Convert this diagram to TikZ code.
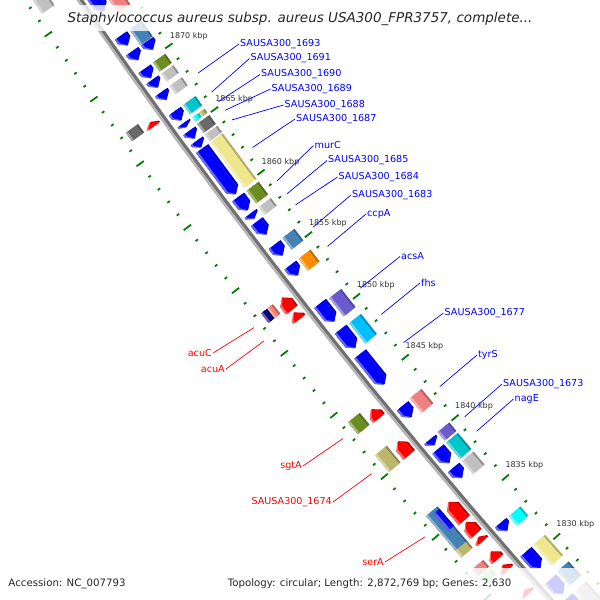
\documentclass[tikz,border=0pt]{standalone}
\usepackage{fontspec}
\setmainfont{DejaVu Sans}
\usetikzlibrary{positioning}

\definecolor{bbdark}{HTML}{707070}
\definecolor{bblight}{HTML}{B4B4B4}
\definecolor{tickgreen}{HTML}{008000}
\definecolor{kbpgray}{HTML}{333333}
\definecolor{cogsteel}{HTML}{4682B4}
\definecolor{cogolive}{HTML}{6B8E23}
\definecolor{cogsilver}{HTML}{C0C0C0}
\definecolor{cogdim}{HTML}{696969}
\definecolor{cogturq}{HTML}{00C5CD}
\definecolor{cogcyan}{HTML}{00FFFF}
\definecolor{cogkhaki}{HTML}{F0E68C}
\definecolor{cogdkhaki}{HTML}{BDB76B}
\definecolor{cogorange}{HTML}{FF8C00}
\definecolor{cogslate}{HTML}{6A5ACD}
\definecolor{cogsky}{HTML}{00BFFF}
\definecolor{cogcoral}{HTML}{F08080}
\definecolor{cognavy}{HTML}{000080}
\definecolor{cogsalmon}{HTML}{FA8072}
\definecolor{cogpale}{HTML}{98FB98}

% outlines: #1 high kbp, #2 low kbp, #3 < #4 radii
\newcommand{\apath}[4]{({ang(#1)}:{#3}) -- ({ang(#2+\gh)}:{#3}) -- ({ang(#2)}:{(#3+#4)/2}) -- ({ang(#2+\gh)}:{#4}) -- ({ang(#1)}:{#4}) -- cycle}
\newcommand{\rpath}[4]{({ang(#2)}:{#3}) -- ({ang(#1-\gh)}:{#3}) -- ({ang(#1)}:{(#3+#4)/2}) -- ({ang(#1-\gh)}:{#4}) -- ({ang(#2)}:{#4}) -- cycle}
\newcommand{\bpath}[4]{({ang(#1)}:{#3}) -- ({ang(#2)}:{#3}) -- ({ang(#2)}:{#4}) -- ({ang(#1)}:{#4}) -- cycle}
% gene shapes with bevel, #5 colour
\newcommand{\garrow}[5]{%
  \pgfmathsetmacro{\gh}{min(0.4,(#1-#2)*0.7)}%
  \fill[#5!75!black] \apath{#1}{#2}{#3}{#4};
  \fill[#5!60!white] \apath{#1}{#2}{#3+2.3}{#4};
  \fill[#5] \apath{#1}{#2}{#3+2.3}{#4-2.3};}
\newcommand{\garrowr}[5]{%
  \pgfmathsetmacro{\gh}{min(0.4,(#1-#2)*0.7)}%
  \fill[#5!75!black] \rpath{#1}{#2}{#3}{#4};
  \fill[#5!60!white] \rpath{#1}{#2}{#3+2.3}{#4};
  \fill[#5] \rpath{#1}{#2}{#3+2.3}{#4-2.3};}
\newcommand{\gbox}[5]{%
  \fill[#5!75!black] \bpath{#1}{#2}{#3}{#4};
  \fill[#5!60!white] \bpath{#1}{#2}{#3+2.3}{#4};
  \fill[#5] \bpath{#1}{#2}{#3+2.3}{#4-2.3};}

\tikzset{
  tickmark/.style={draw=tickgreen, line width=1.8pt},
  kbplbl/.style={text=kbpgray, font=\fontsize{8}{9}\selectfont, inner sep=0pt},
  fwdlbl/.style={text=blue, font=\fontsize{9.6}{11}\selectfont, inner sep=1pt, anchor=west},
  revlbl/.style={text=red, font=\fontsize{9.6}{11}\selectfont, inner sep=1pt, anchor=east},
  fwdlead/.style={blue, line width=0.7pt},
  revlead/.style={red, line width=0.7pt},
  footer/.style={font=\fontsize{10.2}{12}\selectfont, text=black!85, inner sep=0pt, anchor=base west}
}

\begin{document}
\begin{tikzpicture}[x=1pt,y=-1pt, declare function={ang(\p)=141.68+(\p-1850)*0.1473;}]
\useasboundingbox (0,0) rectangle (600,600);
\fill[white] (0,0) rectangle (600,600);
\begin{scope}
\clip (0,0) rectangle (600,600);
\begin{scope}[shift={(5129.5,-3476)}]
% ruler
\foreach \k in {1820,...,1880}{
  \pgfmathtruncatemacro{\m}{mod(\k,5)}
  \ifnum\m=0 \def\tkl{4.5}\else\def\tkl{1.5}\fi
  \draw[tickmark] ({ang(\k)}:{6084-\tkl}) -- ({ang(\k)}:{6084+\tkl});
  \draw[tickmark] ({ang(\k)}:{6176-\tkl}) -- ({ang(\k)}:{6176+\tkl});
}
% backbone
\draw[bblight, line width=2.2pt] plot[domain=1820:1880, samples=13] ({ang(\x)}:6132.5);
\draw[bbdark, line width=3.2pt] plot[domain=1820:1880, samples=13] ({ang(\x)}:6129.5);

% forward strand
\garrow{1876.5}{1874.2}{6109.5}{6124.5}{blue}
\garrow{1872.3}{1871.55}{6109.5}{6124.5}{blue}
\garrow{1871.07}{1870.4}{6109.5}{6124.5}{blue}
\garrow{1869.7}{1869.0}{6109.5}{6124.5}{blue}
\garrow{1868.85}{1868.25}{6109.5}{6124.5}{blue}
\garrow{1867.88}{1867.29}{6109.5}{6124.5}{blue}
\garrow{1866.4}{1865.68}{6109.5}{6124.5}{blue}
\garrow{1865.45}{1865.15}{6109.5}{6124.5}{blue}
\garrow{1864.85}{1864.26}{6109.5}{6124.5}{blue}
\garrow{1864.05}{1863.55}{6109.5}{6124.5}{blue}
\garrow{1863.45}{1859.85}{6109.5}{6124.5}{blue}
\garrow{1859.61}{1858.57}{6109.5}{6124.5}{blue}
\garrow{1858.3}{1857.9}{6109.5}{6124.5}{blue}
\garrow{1857.65}{1856.63}{6109.5}{6124.5}{blue}
\garrow{1855.8}{1854.95}{6109.5}{6124.5}{blue}
\garrow{1854.15}{1853.35}{6109.5}{6124.5}{blue}
\garrow{1851.07}{1849.61}{6109.5}{6124.5}{blue}
\garrow{1848.97}{1847.47}{6109.5}{6124.5}{blue}
\garrow{1846.97}{1844.5}{6109.5}{6124.5}{blue}
\garrow{1842.71}{1841.79}{6109.5}{6124.5}{blue}
\garrow{1839.95}{1839.5}{6109.5}{6124.5}{blue}
\garrow{1839.16}{1838.02}{6109.5}{6124.5}{blue}
\garrow{1837.62}{1836.78}{6109.5}{6124.5}{blue}
\garrow{1833.0}{1832.35}{6109.5}{6124.5}{blue}
\garrow{1830.55}{1829.17}{6109.5}{6124.5}{blue}
\garrow{1828.2}{1827.0}{6109.5}{6124.5}{blue}
\garrow{1826.6}{1825.0}{6109.5}{6124.5}{blue}

% forward COG
\gbox{1876.3}{1873.6}{6091.5}{6106.5}{cogcoral}
\gbox{1872.3}{1871.1}{6091.5}{6106.5}{cogsteel}
\garrow{1871.05}{1870.4}{6091.5}{6106.5}{blue}
\gbox{1869.72}{1869.01}{6091.5}{6106.5}{cogolive}
\gbox{1868.82}{1868.24}{6091.5}{6106.5}{cogsilver}
\gbox{1867.88}{1867.25}{6091.5}{6106.5}{cogsilver}
\gbox{1866.4}{1865.68}{6091.5}{6106.5}{cogturq}
\gbox{1865.4}{1865.1}{6091.5}{6099}{cogdkhaki}
\gbox{1865.4}{1865.1}{6099}{6106.5}{cogcyan}
\gbox{1864.9}{1864.2}{6091.5}{6106.5}{cogdim}
\gbox{1864.05}{1863.55}{6091.5}{6106.5}{cogsilver}
\gbox{1863.45}{1859.85}{6091.5}{6106.5}{cogkhaki}
\gbox{1859.6}{1858.6}{6091.5}{6106.5}{cogolive}
\gbox{1858.3}{1857.7}{6091.5}{6106.5}{cogsilver}
\gbox{1855.83}{1854.9}{6091.5}{6106.5}{cogsteel}
\gbox{1854.15}{1853.2}{6091.5}{6106.5}{cogorange}
\gbox{1850.97}{1849.5}{6091.5}{6106.5}{cogslate}
\gbox{1848.93}{1847.3}{6091.5}{6106.5}{cogsky}
\gbox{1842.78}{1841.6}{6091.5}{6106.5}{cogcoral}
\gbox{1840.0}{1839.3}{6091.5}{6106.5}{cogslate}
\gbox{1839.14}{1837.8}{6091.5}{6106.5}{cogturq}
\gbox{1837.58}{1836.5}{6091.5}{6106.5}{cogsilver}
\gbox{1832.97}{1832.2}{6091.5}{6106.5}{cogcyan}
\gbox{1830.57}{1828.85}{6091.5}{6106.5}{cogkhaki}
\gbox{1828.3}{1827.1}{6091.5}{6106.5}{cogsteel}
\gbox{1826.6}{1825.0}{6091.5}{6106.5}{cogsilver}

% reverse strand
\garrowr{1866.75}{1866.4}{6135.5}{6150.5}{red}
\garrowr{1852.84}{1851.85}{6135.5}{6150.5}{red}
\garrowr{1851.64}{1851.1}{6135.5}{6150.5}{red}
\garrowr{1843.79}{1843.06}{6135.5}{6150.5}{red}
\garrowr{1841.15}{1840.05}{6135.5}{6150.5}{red}
\garrowr{1836.16}{1834.64}{6135.5}{6150.5}{red}
\garrowr{1834.47}{1833.5}{6135.5}{6150.5}{red}
\garrowr{1833.25}{1832.87}{6135.5}{6150.5}{red}
\garrowr{1832.03}{1831.39}{6135.5}{6150.5}{red}
\garrowr{1830.9}{1830.45}{6135.5}{6150.5}{red}
\garrowr{1828.8}{1828.45}{6135.5}{6150.5}{red}

% reverse COG
\gbox{1878.5}{1876.3}{6154.5}{6169.5}{cogsilver}
\gbox{1867.1}{1866.45}{6154.5}{6169.5}{cogdim}
\gbox{1852.88}{1852.12}{6154.5}{6162}{cogsalmon}
\gbox{1852.88}{1852.12}{6162}{6169.5}{cognavy}
\gbox{1844.08}{1843.12}{6154.5}{6169.5}{cogolive}
\gbox{1841.4}{1840.03}{6154.5}{6169.5}{cogdkhaki}
\gbox{1836.4}{1833.4}{6154.5}{6169.5}{cogsteel}
\gbox{1836.2}{1834.8}{6154.5}{6162}{blue}
\gbox{1833.52}{1832.97}{6154.5}{6169.5}{cogdkhaki}
\gbox{1831.95}{1831.39}{6154.5}{6169.5}{cogcoral}
\gbox{1831.2}{1830.7}{6154.5}{6169.5}{cogpale}

% kbp labels
\foreach \k in {1830,1835,...,1870}
  \node[kbplbl] (kbp\k) at ({ang(\k-0.21)}:6062) {\k{} kbp};

% leader ends
\coordinate (g1693) at ({ang(1867.5)}:6076);
\coordinate (g1691) at ({ang(1866.0)}:6076);
\coordinate (g1690) at ({ang(1865.25)}:6076);
\coordinate (g1689) at ({ang(1864.55)}:6076);
\coordinate (g1688) at ({ang(1863.8)}:6076);
\coordinate (g1687) at ({ang(1861.6)}:6076);
\coordinate (gmurC) at ({ang(1858.95)}:6076);
\coordinate (g1685) at ({ang(1857.9)}:6076);
\coordinate (g1684) at ({ang(1857.0)}:6076);
\coordinate (g1683) at ({ang(1855.2)}:6076);
\coordinate (gccpA) at ({ang(1853.65)}:6076);
\coordinate (gacsA) at ({ang(1850.25)}:6076);
\coordinate (gfhs) at ({ang(1848.1)}:6076);
\coordinate (g1677) at ({ang(1845.8)}:6076);
\coordinate (gtyrS) at ({ang(1842.15)}:6076);
\coordinate (g1673) at ({ang(1839.65)}:6076);
\coordinate (gnagE) at ({ang(1838.45)}:6076);
\coordinate (gacuC) at ({ang(1852.45)}:6184);
\coordinate (gacuA) at ({ang(1851.4)}:6184);
\coordinate (gsgtA) at ({ang(1843.5)}:6184);
\coordinate (g1674) at ({ang(1840.65)}:6184);
\coordinate (gserA) at ({ang(1835.45)}:6184);
\end{scope}
% text backgrounds
\fill[white, opacity=0.8] (62,5) rectangle (538,31);
\fill[white, opacity=0.8] (0,568) rectangle (600,600);
\end{scope}

% gene labels
\node[fwdlbl] (l1693) at (239,44) {SAUSA300\_1693};
\node[fwdlbl] (l1691) at (249.5,58.5) {SAUSA300\_1691};
\node[fwdlbl] (l1690) at (260,74.5) {SAUSA300\_1690};
\node[fwdlbl] (l1689) at (270.5,89) {SAUSA300\_1689};
\node[fwdlbl] (l1688) at (283.5,105) {SAUSA300\_1688};
\node[fwdlbl] (l1687) at (295,119) {SAUSA300\_1687};
\node[fwdlbl] (lmurC) at (313.5,145.5) {murC};
\node[fwdlbl] (l1685) at (327,160.5) {SAUSA300\_1685};
\node[fwdlbl] (l1684) at (337.5,177) {SAUSA300\_1684};
\node[fwdlbl] (l1683) at (351,195) {SAUSA300\_1683};
\node[fwdlbl] (lccpA) at (366,214) {ccpA};
\node[fwdlbl] (lacsA) at (400,256.5) {acsA};
\node[fwdlbl] (lfhs) at (420,283) {fhs};
\node[fwdlbl] (l1677) at (443.5,313) {SAUSA300\_1677};
\node[fwdlbl] (ltyrS) at (477,355) {tyrS};
\node[fwdlbl] (l1673) at (502,384) {SAUSA300\_1673};
\node[fwdlbl] (lnagE) at (513.5,399) {nagE};
\node[revlbl] (lacuC) at (213,353) {acuC};
\node[revlbl] (lacuA) at (226,369) {acuA};
\node[revlbl] (lsgtA) at (303,466) {sgtA};
\node[revlbl] (l1674) at (333,502) {SAUSA300\_1674};
\node[revlbl] (lserA) at (385,562) {serA};

\foreach \g in {1693,1691,1690,1689,1688,1687,murC,1685,1684,1683,ccpA,acsA,fhs,1677,tyrS,1673,nagE}
  \draw[fwdlead] (g\g) -- (l\g.west);
\foreach \g in {acuC,acuA,sgtA,1674,serA}
  \draw[revlead] (g\g) -- (l\g.east);

% title and footer
\node[font=\itshape\fontsize{13.5}{16}\selectfont, text=black!85, inner sep=0pt, anchor=base] (title) at (300,22.7) {Staphylococcus aureus subsp. aureus USA300\_FPR3757, complete...};
\node[footer] (acc) at (8.3,586.7) {Accession: NC\_007793};
\node[footer] (topo) at (227.7,586.7) {Topology: circular; Length: 2,872,769 bp; Genes: 2,630};
\end{tikzpicture}
\end{document}
